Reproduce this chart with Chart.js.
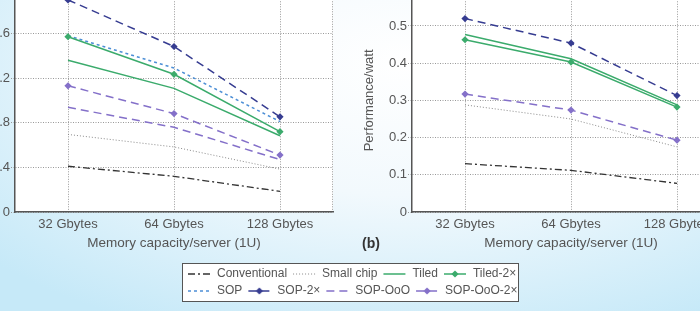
<!DOCTYPE html>
<html>
<head>
<meta charset="utf-8">
<script src="https://cdn.jsdelivr.net/npm/chart.js@4.4.1/dist/chart.umd.min.js"></script>
<style>
  html, body { margin: 0; padding: 0; overflow: hidden; }
  body {
    width: 700px; height: 311px; position: relative;
    background: radial-gradient(ellipse 80% 95% at 58% 20%, #ffffff 0%, #f2f9fd 45%, #c6e9f8 100%);
    font-family: "Liberation Sans", Arial, sans-serif;
  }
  #wrapA { position: absolute; left: -45px; top: -20px; }
  #wrapB { position: absolute; left: 340px; top: -20px; }
  #tag { position: absolute; left: 362px; top: 235px; font-size: 14px; line-height: 16px; font-weight: bold; color: #333; }
  #legendBox { position: absolute; left: 182px; top: 263px; width: 335px; height: 37px; background: #fff; border: 1px solid #555; }
  #wrapL { position: absolute; left: 182px; top: 263px; }
</style>
</head>
<body>
<div id="wrapA"><canvas id="chartA" width="385" height="280"></canvas></div>
<div id="wrapB"><canvas id="chartB" width="400" height="280"></canvas></div>
<div id="tag">(b)</div>
<div id="legendBox"></div>
<div id="wrapL"><canvas id="chartL" width="360" height="120"></canvas></div>
<script>
// categories
var categories = ['32 Gbytes', '64 Gbytes', '128 Gbytes'];
var seriesNames = ['Conventional', 'Small chip', 'Tiled', 'Tiled-2×', 'SOP', 'SOP-2×', 'SOP-OoO', 'SOP-OoO-2×'];

// left panel (a)
var convA      = [0.41, 0.32, 0.185];
var smallChipA = [0.695, 0.583, 0.384];
var tiledA     = [1.36, 1.108, 0.683];
var tiled2xA   = [1.571, 1.234, 0.72];
var sopA       = [1.58, 1.29, 0.81];
var sop2xA     = [1.90, 1.483, 0.853];
var sopOooA    = [0.938, 0.759, 0.47];
var sopOoo2xA  = [1.131, 0.882, 0.51];

// right panel (b) performance/watt
var convB      = [0.13, 0.112, 0.077];
var smallChipB = [0.288, 0.25, 0.175];
var tiledB     = [0.477, 0.412, 0.288];
var tiled2xB   = [0.463, 0.403, 0.282];
var sop2xB     = [0.52, 0.454, 0.313];
var sopOoo2xB  = [0.317, 0.274, 0.193];

// tick labels
var ticksA = [0, 0.4, 0.8, 1.2, 1.6, 2.0];
var ticksB = [0, 0.1, 0.2, 0.3, 0.4, 0.5, 0.6];

var styles = {
  'Conventional': { color: '#333333', dash: [7, 3, 2, 3], width: 1.3 },
  'Small chip':   { color: '#8a8a8a', dash: [1, 2], width: 1 },
  'Tiled':        { color: '#3bab6c', dash: [], width: 1.5 },
  'Tiled-2×':     { color: '#3bab6c', dash: [], width: 1.5, marker: true },
  'SOP':          { color: '#4d8fd6', dash: [3, 3], width: 1.5 },
  'SOP-2×':       { color: '#363c91', dash: [8, 5], width: 1.5, marker: true },
  'SOP-OoO':      { color: '#8470c9', dash: [8, 5], width: 1.5 },
  'SOP-OoO-2×':   { color: '#8470c9', dash: [8, 5], width: 1.5, marker: true }
};

var textColor = '#555';
var fontFam = '"Liberation Sans", Arial, sans-serif';

function ds(name, data) {
  var s = styles[name];
  return {
    label: name, data: data,
    borderColor: s.color, backgroundColor: s.color,
    borderWidth: s.width, borderDash: s.dash,
    pointStyle: 'rectRot', pointRadius: s.marker ? 3.6 : 0, pointHoverRadius: 0,
    pointBorderWidth: 0, pointBackgroundColor: s.color,
    tension: 0, fill: false
  };
}

// white plot area + dotted right edge
var plotBg = {
  id: 'plotBg',
  beforeDraw: function (chart) {
    var ctx = chart.ctx, a = chart.chartArea;
    ctx.save();
    ctx.fillStyle = '#fff';
    ctx.fillRect(a.left, a.top, a.right - a.left, a.bottom - a.top);
    ctx.strokeStyle = '#999';
    ctx.lineWidth = 1;
    ctx.setLineDash([1, 1.5]);
    ctx.beginPath();
    ctx.moveTo(a.right - 0.5, a.top);
    ctx.lineTo(a.right - 0.5, a.bottom);
    ctx.stroke();
    ctx.restore();
  }
};

function makeOptions(ticks, yWidth, padRight, yTitle) {
  return {
    responsive: false, animation: false, events: [],
    layout: { padding: { top: 4.5, right: padRight, left: 0, bottom: 0 } },
    plugins: { legend: { display: false }, tooltip: { enabled: false } },
    scales: {
      x: {
        offset: true,
        grid: { color: '#999', lineWidth: 1, drawTicks: false },
        border: { color: '#555', width: 1.5, dash: [1, 1.5] },
        ticks: { padding: 5, color: textColor, font: { family: fontFam, size: 13 } },
        title: { display: true, text: 'Memory capacity/server (1U)', color: textColor,
                 font: { family: fontFam, size: 13.5 }, padding: { top: 0, bottom: 9 } },
        afterFit: function (s) { s.height = 48; }
      },
      y: {
        min: ticks[0], max: ticks[ticks.length - 1],
        grid: { color: '#999', lineWidth: 1, drawTicks: true, tickLength: 4, tickBorderDash: [1, 1.5] },
        border: { color: '#555', width: 1.5, dash: [1, 1.5] },
        ticks: { padding: 1, color: textColor, font: { family: fontFam, size: 13 },
                 callback: function (v) { return v === 0 ? '0' : v.toFixed(1); } },
        afterBuildTicks: function (s) { s.ticks = ticks.map(function (v) { return { value: v }; }); },
        title: { display: !!yTitle, text: yTitle || '', color: textColor,
                 font: { family: fontFam, size: 13 }, padding: { top: 21.5, bottom: 0 } },
        afterFit: function (s) { s.width = yWidth; }
      }
    }
  };
}

new Chart(document.getElementById('chartA'), {
  type: 'line',
  data: {
    labels: categories,
    datasets: [
      ds('Tiled-2×', tiled2xA),
      ds('SOP-2×', sop2xA),
      ds('SOP-OoO-2×', sopOoo2xA),
      ds('Tiled', tiledA),
      ds('SOP', sopA),
      ds('SOP-OoO', sopOooA),
      ds('Small chip', smallChipA),
      ds('Conventional', convA)
    ]
  },
  options: makeOptions(ticksA, 60, 7, null),
  plugins: [plotBg]
});

new Chart(document.getElementById('chartB'), {
  type: 'line',
  data: {
    labels: categories,
    datasets: [
      ds('Tiled-2×', tiled2xB),
      ds('SOP-2×', sop2xB),
      ds('SOP-OoO-2×', sopOoo2xB),
      ds('Tiled', tiledB),
      ds('Small chip', smallChipB),
      ds('Conventional', convB)
    ]
  },
  options: makeOptions(ticksB, 72, 10, 'Performance/watt'),
  plugins: [plotBg]
});

// legend samples
function sample(name) {
  var s = styles[name];
  var c = document.createElement('canvas');
  c.width = 24; c.height = 12;
  var g = c.getContext('2d');
  g.strokeStyle = s.color; g.lineWidth = s.width; g.setLineDash(s.dash);
  g.beginPath(); g.moveTo(1, 6); g.lineTo(23, 6); g.stroke();
  if (s.marker) {
    g.fillStyle = s.color;
    g.beginPath();
    g.moveTo(12, 2.4); g.lineTo(15.6, 6); g.lineTo(12, 9.6); g.lineTo(8.4, 6);
    g.closePath(); g.fill();
  }
  return c;
}

new Chart(document.getElementById('chartL'), {
  type: 'line',
  data: { labels: [], datasets: seriesNames.map(function (n) { return ds(n, []); }) },
  options: {
    responsive: false, animation: false, events: [],
    layout: { padding: 0 },
    scales: { x: { display: false }, y: { display: false } },
    plugins: {
      tooltip: { enabled: false },
      legend: {
        position: 'top', align: 'start',
        labels: {
          usePointStyle: true, pointStyleWidth: 24, boxHeight: 12, padding: 5,
          color: textColor, font: { family: fontFam, size: 12 },
          generateLabels: function () {
            return seriesNames.map(function (n, i) {
              return { text: n, pointStyle: sample(n), fillStyle: 'transparent',
                       strokeStyle: 'transparent', lineWidth: 0, hidden: false,
                       datasetIndex: i, fontColor: textColor };
            });
          }
        }
      }
    }
  }
});
</script>
</body>
</html>
